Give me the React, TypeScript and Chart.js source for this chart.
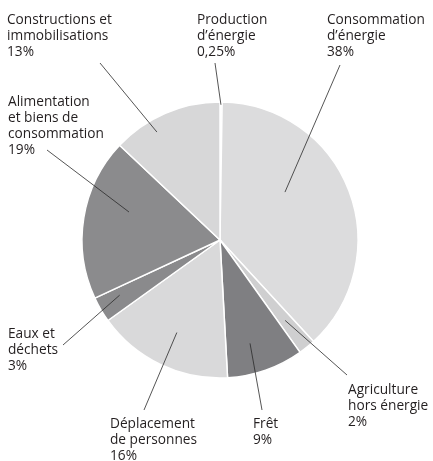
import React, { useEffect, useRef } from "react";
import { Chart, registerables } from "chart.js";

Chart.register(...registerables);

// ---- data ----
const categories = [
  "Production d’énergie",
  "Consommation d’énergie",
  "Agriculture hors énergie",
  "Frêt",
  "Déplacement de personnes",
  "Eaux et déchets",
  "Alimentation et biens de consommation",
  "Constructions et immobilisations",
];
const shares = [0.25, 38, 2, 9, 16, 3, 19, 13];
const labelLines = [
  ["Production", "d’énergie", "0,25%"],
  ["Consommation", "d’énergie", "38%"],
  ["Agriculture", "hors énergie", "2%"],
  ["Frêt", "9%"],
  ["Déplacement", "de personnes", "16%"],
  ["Eaux et", "déchets", "3%"],
  ["Alimentation", "et biens de", "consommation", "19%"],
  ["Constructions et", "immobilisations", "13%"],
];

// ---- styles / layout ----
const colors = ["#f2f2f2", "#dcdcdd", "#cfcfd0", "#7f7f82", "#d9d9da", "#8a8a8c", "#8b8b8d", "#d7d7d8"];
// text block anchor: left x, centre y of first line
const labelPos = [
  [197, 20],
  [327, 20],
  [348, 390],
  [253, 424],
  [110, 424],
  [8, 334],
  [8, 102],
  [7, 20],
];
// leader: outer end (px), inner end (angle deg from top clockwise, fraction of radius)
const leaderOuter = [
  [215, 63],
  [340, 65],
  [347, 375],
  [262, 410],
  [144, 410],
  [63, 345],
  [47, 150],
  [100, 63],
];
const leaderInner = [
  [0.4, 0.98],
  [53.6, 0.585],
  [141, 0.75],
  [163.8, 0.78],
  [205, 0.74],
  [241.2, 0.83],
  [287.1, 0.69],
  [329.7, 0.906],
];

const labelsPlugin = {
  id: "pieLabels",
  afterDraw(chart: any) {
    const ctx = chart.ctx;
    const arc = chart.getDatasetMeta(0).data[0];
    const cx = arc.x;
    const cy = arc.y;
    const R = arc.outerRadius;
    ctx.save();
    ctx.strokeStyle = "#2a2a2a";
    ctx.lineWidth = 0.8;
    leaderOuter.forEach((o, i) => {
      const [ang, f] = leaderInner[i];
      const a = (ang * Math.PI) / 180;
      const ix = cx + R * f * Math.sin(a);
      const iy = cy - R * f * Math.cos(a);
      ctx.beginPath();
      ctx.moveTo(o[0], o[1]);
      ctx.lineTo(ix, iy);
      ctx.stroke();
    });
    ctx.fillStyle = "#231f20";
    ctx.font = "13.7px 'Open Sans'";
    ctx.textBaseline = "middle";
    ctx.textAlign = "left";
    labelLines.forEach((lines, i) => {
      const [x, y] = labelPos[i];
      lines.forEach((t, j) => ctx.fillText(t, x, y + j * 16));
    });
    ctx.restore();
  },
};

export default function App() {
  const ref = useRef<HTMLCanvasElement>(null);
  useEffect(() => {
    if (!ref.current) return;
    const chart = new Chart(ref.current, {
      type: "pie",
      data: {
        labels: categories,
        datasets: [
          {
            data: shares,
            backgroundColor: colors,
            borderColor: "#ffffff",
            borderWidth: 1.5,
          },
        ],
      },
      options: {
        responsive: false,
        animation: false,
        radius: 138,
        layout: { padding: { left: 82, right: 75, top: 102, bottom: 83 } },
        plugins: {
          legend: { display: false },
          tooltip: { enabled: false },
        },
      } as any,
      plugins: [labelsPlugin],
    });
    return () => chart.destroy();
  }, []);
  return (
    <div style={{ position: "fixed", left: 0, top: 0, width: 433, height: 461, background: "#fff" }}>
      <canvas ref={ref} width={433} height={461} />
    </div>
  );
}
